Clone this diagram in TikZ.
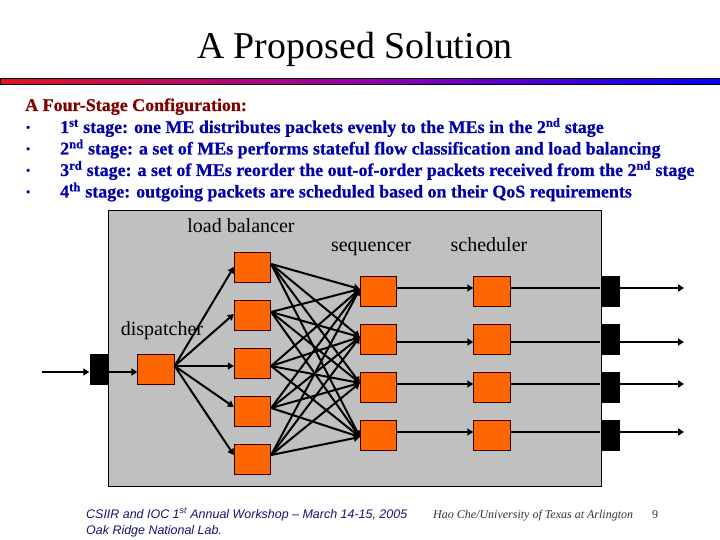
\documentclass[tikz,border=0pt]{standalone}
\usepackage{fontspec}
\setmainfont{Liberation Serif}[BoldFeatures={FakeBold=0.6}]
\setsansfont{Liberation Sans}
\usetikzlibrary{arrows.meta}
\definecolor{myorange}{RGB}{255,102,0}
\definecolor{mygray}{RGB}{192,192,192}
\definecolor{myblue}{RGB}{0,0,170}
\definecolor{myred}{RGB}{128,0,0}
\definecolor{mynavy}{RGB}{20,20,110}
\definecolor{mybarleft}{RGB}{225,20,30}
\definecolor{mybarmid}{RGB}{150,0,170}
\tikzset{
  mebox/.style={draw=black!80!red, line width=0.8pt, fill=myorange, minimum width=36.5pt, minimum height=30pt, inner sep=0pt},
  port/.style={fill=black, minimum width=19pt, minimum height=31pt, inner sep=0pt},
  link/.style={line width=2pt, -{Triangle[length=6pt,width=7pt]}},
  stagetext/.style={anchor=base west, inner sep=0pt, font=\fontsize{17.95}{20}\selectfont\bfseries, text=myblue},
  dot/.style={anchor=base west, inner sep=0pt, font=\fontsize{11}{12}\selectfont\bfseries, text=myblue},
  lbl/.style={anchor=base, inner sep=0pt, font=\fontsize{20}{24}\selectfont},
  foot/.style={anchor=base west, inner sep=0pt, text=mynavy, font=\fontsize{12.46}{14}\selectfont\sffamily\itshape}
}
\begin{document}
\begin{tikzpicture}[x=1pt,y=-1pt]
  \useasboundingbox (0,0) rectangle (720,540);
  % title and coloured bar
  \node[anchor=base, inner sep=0pt, font=\fontsize{37.9}{44}\selectfont] (title) at (355,59) {A Proposed Solution};
  \draw[black, line width=0.9pt, left color=mybarleft, right color=blue, middle color=mybarmid] (0,78.5) rectangle (720,84);

  % stage text
  \node[stagetext, text=myred] (head) at (25,111) {A Four-Stage Configuration:};
  \foreach \y/\name/\txt in {
      133/one/{1\textsuperscript{st} stage: one ME distributes packets evenly to the MEs in the 2\textsuperscript{nd} stage},
      154.5/two/{2\textsuperscript{nd} stage: a set of MEs performs stateful flow classification and load balancing},
      176/three/{3\textsuperscript{rd} stage: a set of MEs reorder the out-of-order packets received from the 2\textsuperscript{nd} stage},
      197.5/four/{4\textsuperscript{th} stage: outgoing packets are scheduled based on their QoS requirements}} {
    \node[dot] (bullet\name) at (26,\y-2) {•};
    \node[stagetext] (line\name) at (60,\y) {\txt};
  }

  % gray panel
  \draw[black, line width=0.8pt, fill=mygray] (108,210) rectangle (601,486);

  % the black ports
  \node[port] (inport) at (99,369.5) {};
  \foreach \i/\y in {1/291.5,2/339.5,3/387.5,4/435.5}
    \node[port] (port\i) at (610,\y) {};

  % boxes
  \node[mebox] (disp) at (156,369) {};
  \foreach \i/\y in {1/267,2/315,3/363,4/411,5/459}
    \node[mebox] (lb\i) at (252.5,\y) {};
  \foreach \i/\y in {1/291,2/339,3/387,4/435} {
    \node[mebox] (seq\i) at (378.5,\y) {};
    \node[mebox] (sch\i) at (492,\y) {};
  }

  % labels
  \node[lbl] (lblb) at (241,233) {load balancer};
  \node[lbl] (lseq) at (371,251.5) {sequencer};
  \node[lbl] (lsch) at (489,251.5) {scheduler};
  \node[lbl] (ldisp) at (162,335) {dispatcher};

  % connectors
  \coordinate (infree) at (42,372);
  \draw[link] (infree) -- (inport.west |- infree);
  \draw[link] (inport.east |- infree) -- (disp.west |- infree);
  \foreach \i/\up in {1/0,2/1,3/-3,4/4,5/4}
    \draw[link] ([yshift=3pt]disp.east) -- ([yshift=\up pt]lb\i.west);
  \foreach \i/\up in {1/3,2/3,3/-3,4/3,5/4}
    \foreach \j/\dn in {1/2,2/2,3/4,4/-2}
      \draw[link] ([yshift=\up pt]lb\i.east) -- ([yshift=\dn pt]seq\j.west);
  \foreach \i/\y in {1/288,2/342,3/384,4/432} {
    \coordinate (out\i) at (684,\y);
    \draw[link] (seq\i.east |- out\i) -- (sch\i.west |- out\i);
    \draw[line width=2pt] (sch\i.east |- out\i) -- (port\i.west |- out\i);
    \draw[link] (port\i.east |- out\i) -- (out\i);
  }

  % footer
  \node[foot] (foota) at (86,518) {CSIIR and IOC 1\textsuperscript{st} Annual Workshop – March 14-15, 2005};
  \node[foot] (footb) at (86,534) {Oak Ridge National Lab.};
  \node[foot, text=black!80, font=\fontsize{12}{14}\selectfont\rmfamily\itshape] (footc) at (433,518) {Hao Che/University of Texas at Arlington};
  \node[foot, text=black!80, font=\fontsize{12}{14}\selectfont\rmfamily] (footd) at (652,518) {9};
\end{tikzpicture}
\end{document}
